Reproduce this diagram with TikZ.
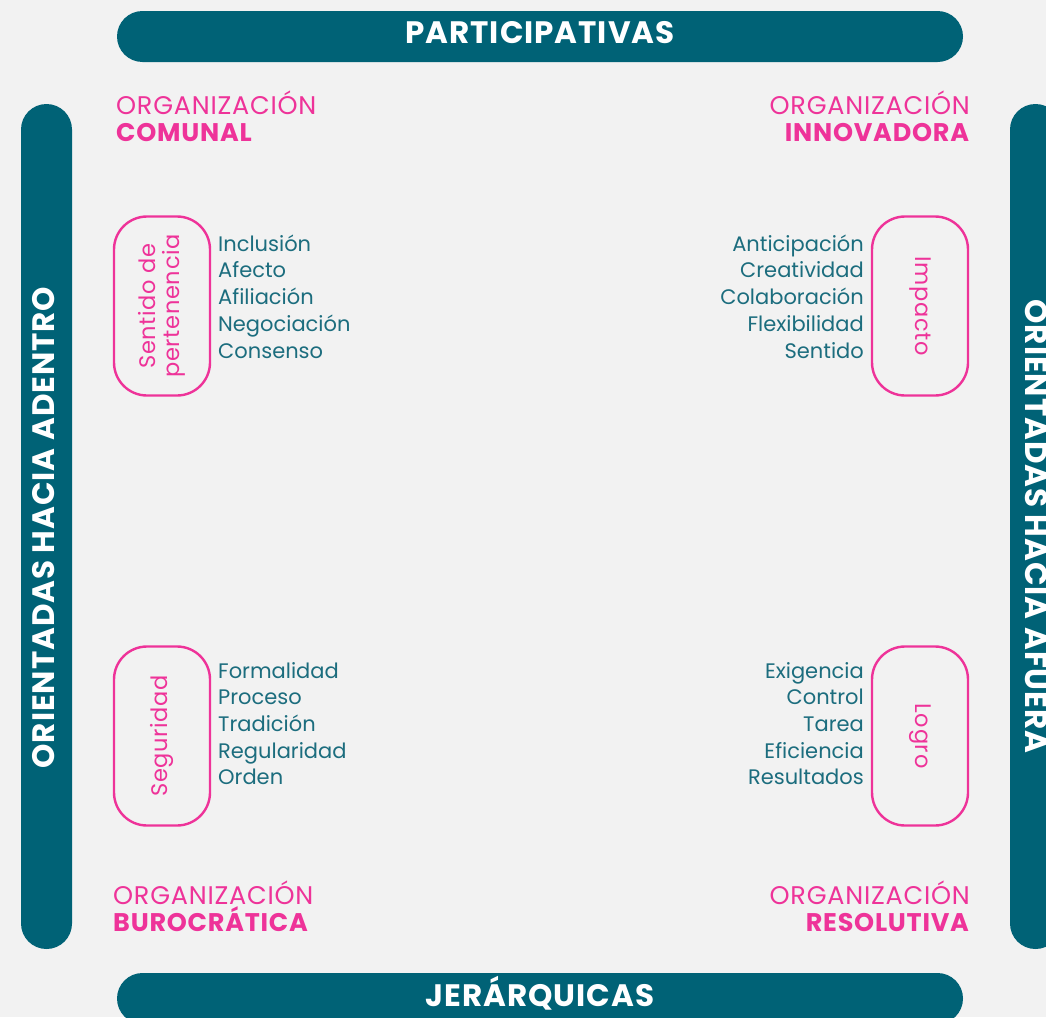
\documentclass[tikz,border=0pt]{standalone}
\usepackage{fontspec}
\setmainfont{Poppins}[LetterSpace=3]
\newfontfamily\listfont{Poppins}
\definecolor{bgc}{HTML}{F2F2F2}
\definecolor{barc}{HTML}{006276}
\definecolor{pinkc}{HTML}{EE3399}
\definecolor{listc}{HTML}{1C6D7E}
\tikzset{
  bar/.style={fill=barc, rounded corners=25.5pt, minimum height=51pt, inner sep=0pt},
  bartext/.style={text=white, inner sep=0pt, anchor=base, font=\fontsize{31}{34}\selectfont\bfseries},
  pill/.style={draw=pinkc, line width=2.4pt, rounded corners=33pt, minimum width=179pt,
    minimum height=96pt, inner sep=0pt, text=pinkc, align=center,
    font=\fontsize{22.5}{24}\selectfont},
  listl/.style={text=listc, inner sep=0pt, align=left, font=\listfont\fontsize{21}{26.7}\selectfont},
  listr/.style={text=listc, inner sep=0pt, align=right, font=\listfont\fontsize{21}{26.7}\selectfont},
  corner/.style={text=pinkc, inner sep=0pt, font=\fontsize{25.5}{27}\selectfont},
}
\begin{document}
\begin{tikzpicture}[x=1pt,y=-1pt]
\fill[bgc] (0,0) rectangle (1046,1017);
\useasboundingbox (0,0) rectangle (1046,1017);
\begin{scope}
\clip (0,0) rectangle (1046,1017);
\node[bar, minimum width=846pt] (top) at (540,36.5) {};
\node[bar, minimum width=846pt] (bottom) at (540,998.5) {};
\node[bar, minimum width=845pt, rotate=90] (left) at (46.5,526.5) {};
\node[bar, minimum width=845pt, rotate=-90] (right) at (1035.5,526.5) {};
\node[bartext] (toptext) at (540,43.5) {PARTICIPATIVAS};
\node[bartext] (bottomtext) at (540,1006) {JERÁRQUICAS};
\node[bartext, rotate=90] (lefttext) at (54.5,527.5) {ORIENTADAS HACIA ADENTRO};
\node[bartext, rotate=-90] (righttext) at (1025,526.5) {ORIENTADAS HACIA AFUERA};
\end{scope}

\node[corner, anchor=west, align=left] (comunal) at (116,116.5) {ORGANIZACIÓN\\\textbf{COMUNAL}};
\node[corner, anchor=east, align=right] (innov) at (970,116.5) {ORGANIZACIÓN\\\textbf{INNOVADORA}};
\node[corner, anchor=west, align=left] (buro) at (113,906.5) {ORGANIZACIÓN\\\textbf{BUROCRÁTICA}};
\node[corner, anchor=east, align=right] (resol) at (970,906.5) {ORGANIZACIÓN\\\textbf{RESOLUTIVA}};

\node[pill, rotate=90] (p1) at (162,306) {Sentido de\\pertenencia};
\node[pill, rotate=-90] (p2) at (920,306) {Impacto};
\node[pill, rotate=90] (p3) at (162,736) {Seguridad};
\node[pill, rotate=-90] (p4) at (920,736) {Logro};

\node[listl, anchor=west] (l1) at (218,296.5) {Inclusión\\Afecto\\Afiliación\\Negociación\\Consenso};
\node[listr, anchor=east] (l2) at (864,296.5) {Anticipación\\Creatividad\\Colaboración\\Flexibilidad\\Sentido};
\node[listl, anchor=west] (l3) at (218,723.5) {Formalidad\\Proceso\\Tradición\\Regularidad\\Orden};
\node[listr, anchor=east] (l4) at (864,723.5) {Exigencia\\Control\\Tarea\\Eficiencia\\Resultados};
\end{tikzpicture}
\end{document}
